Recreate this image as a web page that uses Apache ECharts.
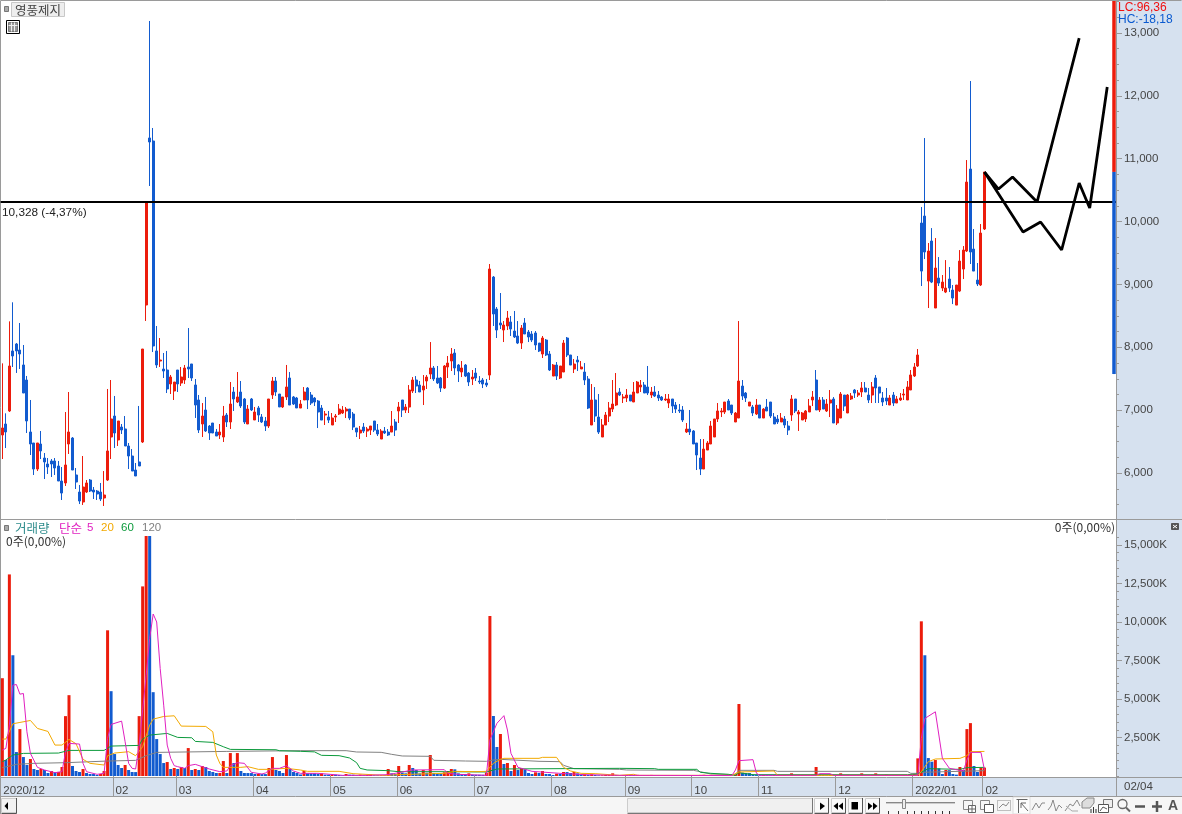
<!DOCTYPE html>
<html><head><meta charset="utf-8">
<style>html,body{margin:0;padding:0;background:#fff}#c{width:1182px;height:814px}</style>
<script src="https://cdn.jsdelivr.net/npm/echarts@6/dist/echarts.min.js"></script>
</head><body><div id="c"></div>
<script>
const sessionCount = 318;
const monthStarts = [0,32,50,72,94,113,135,157,178,197,216,238,260,280];
const monthLabels = ['2020/12','02','03','04','05','06','07','08','09','10','11','12','2022/01','02'];
const priceTicks = [6000,7000,8000,9000,10000,11000,12000,13000];
const volumeTicks = [2500,5000,7500,10000,12500,15000];
const refLevel = 10320;
const rangeBar = [[13509,10790],[10790,7575]];
const trendA = [[280,10788],[284,10518],[288,10709],[295,10312],[307,12920]];
const trendB = [[280,10788],[291,9834],[296,9993],[302,9548],[307,10614],[310,10216],[315,12141]];
// open, close, low, high
const ohlc = [
[6605,6717,6223,7745],[6780,6653,6398,6950],[6987,7703,6971,8413],[7942,7862,7687,8716],[8053,7942,7592,8069],[7957,7894,7655,8387],[7719,7273,7273,8037],[7480,6828,6637,7544],[6653,6462,6287,7162],[6478,6064,5969,6478],
[6064,6478,6032,6478],[6462,6351,6223,6669],[6239,6176,5905,6319],[6144,6096,5985,6239],[6192,6144,5937,6223],[6192,6080,5969,6239],[6112,5873,5873,6192],[5873,5682,5571,6096],[5842,6128,5794,6971],[6462,6653,6303,7289],
[6557,6048,6048,6573],[5969,5857,5746,6080],[5698,5555,5507,5810],[5539,5778,5492,6271],[5698,5842,5682,5889],[5889,5714,5698,5905],[5730,5698,5587,5778],[5714,5667,5571,5730],[5698,5587,5555,5842],[5603,5651,5476,6032],
[5889,6351,5873,7337],[6573,6860,6223,7480],[6907,6637,6398,7226],[6526,6828,6430,6828],[6732,6685,6621,6780],[6701,6430,6430,6907],[6430,6271,6064,6478],[6271,6032,6032,6382],[6048,5953,5953,6160],[6176,6112,6112,7067],
[6494,7973,6478,7973],[8673,10300,8419,10300],[11330,11266,10566,13191],[11282,8021,7925,11489],[7942,7719,7671,8339],[7782,7798,7687,8148],[7655,7623,7512,7910],[7639,7337,7273,7942],[7417,7528,7257,7560],[7305,7448,7162,7448],
[7639,7417,7289,7639],[7432,7528,7385,7687],[7480,7671,7417,7719],[7687,7655,7512,8307],[7735,7512,7464,7735],[7401,7082,6876,7496],[7162,6685,6637,7242],[6780,6907,6573,7114],[7003,6669,6653,7210],[6748,6637,6526,6764],
[6796,6637,6637,6796],[6653,6589,6589,6701],[6605,6653,6542,6780],[6573,6907,6494,7067],[6923,6812,6732,6955],[6812,7098,6701,7448],[7289,7178,6987,7369],[7130,7210,7114,7607],[7289,7067,7035,7464],[7178,6812,6780,7194],
[6780,7019,6780,7082],[7178,7003,6987,7194],[6844,6971,6844,7051],[7035,6923,6812,7067],[6892,6812,6796,6939],[6828,6748,6669,6892],[6748,7178,6717,7178],[7242,7464,7178,7528],[7464,7289,7226,7528],[7257,7051,7051,7257],
[7051,7210,7035,7210],[7210,7369,7162,7719],[7512,7082,7082,7607],[7210,7098,7082,7226],[7194,7035,7035,7210],[7034,7098,7034,7162],[7162,7289,7162,7368],[7352,7162,7018,7368],[7241,7114,7082,7289],[7193,7130,7066,7209],
[7146,6971,6716,7162],[7034,6843,6843,7082],[6923,6939,6764,6987],[6891,6843,6796,6987],[6764,6875,6764,6955],[6891,6907,6812,6939],[6939,7018,6923,7098],[6955,7002,6939,7066],[6987,7018,6875,7050],[7018,6875,6843,7018],
[6939,6732,6684,6971],[6716,6652,6573,6716],[6637,6684,6541,6748],[6732,6668,6637,6796],[6668,6700,6573,6732],[6684,6748,6605,6748],[6828,6684,6652,6828],[6684,6621,6589,6780],[6541,6668,6541,6700],[6668,6637,6621,6732],
[6652,6605,6589,6700],[6652,6748,6652,6987],[6812,6684,6589,6859],[6987,7050,6796,7130],[7162,7002,6891,7162],[7002,7050,6955,7098],[7050,7321,6955,7400],[7305,7480,7273,7527],[7480,7384,7273,7543],[7400,7289,7289,7464],
[7321,7384,7082,7559],[7464,7527,7337,7559],[7575,7671,7496,8084],[7671,7496,7464,7703],[7512,7432,7416,7703],[7512,7352,7289,7527],[7352,7703,7337,7718],[7687,7750,7512,7862],[7782,7893,7623,7989],[7909,7671,7559,7973],
[7718,7623,7448,7734],[7607,7671,7527,7782],[7718,7543,7527,7734],[7591,7448,7384,7607],[7496,7527,7400,7639],[7591,7512,7464,7671],[7464,7448,7416,7543],[7480,7416,7352,7512],[7432,7400,7368,7496],[7559,9246,7480,9325],
[9118,8530,8339,9134],[8609,8275,8148,8641],[8387,8355,8291,8864],[8275,8355,8084,8418],[8339,8466,8275,8578],[8403,8291,8180,8498],[8259,8164,8148,8578],[8180,8068,8052,8418],[8068,8307,7973,8355],[8387,8212,8212,8466],
[8243,8164,8084,8275],[8212,8116,8084,8259],[8228,8037,7957,8259],[8068,7941,7925,8068],[7893,8148,7830,8180],[8116,7878,7862,8132],[7893,7639,7623,7941],[7543,7718,7543,7734],[7718,7543,7480,7766],[7512,7703,7496,7703],
[7607,8068,7607,8116],[8148,7878,7846,8164],[7878,7718,7718,7878],[7655,7734,7591,7814],[7798,7766,7623,7862],[7655,7687,7655,7782],[7607,7480,7400,7750],[7496,7034,7018,7543],[6764,7162,6764,7416],[7162,6907,6812,7368],
[6891,6652,6621,7257],[6573,6764,6573,6859],[6764,6923,6764,6971],[6907,7034,6812,7130],[7018,7098,6971,7480],[7082,7273,7066,7591],[7289,7241,7225,7352],[7194,7209,7114,7257],[7194,7241,7130,7337],[7241,7146,7146,7241],
[7130,7289,7130,7448],[7273,7448,7273,7464],[7369,7400,7289,7480],[7400,7273,7273,7448],[7369,7273,7241,7703],[7241,7289,7194,7369],[7289,7225,7209,7384],[7241,7194,7146,7305],[7209,7162,7146,7225],[7162,7178,7146,7257],
[7114,7178,7034,7257],[7178,7066,6955,7178],[7082,7018,6955,7130],[7003,6987,6955,7098],[7003,6844,6812,7066],[6653,6700,6637,6796],[6700,6653,6605,7003],[6669,6462,6462,6684],[6478,6287,6048,6478],[6239,6064,5968,6541],
[6064,6382,6064,6541],[6366,6478,6366,6509],[6462,6748,6462,6828],[6573,6860,6573,6860],[6860,6987,6812,7114],[6971,6987,6891,7034],[6971,7130,6939,7130],[7146,7003,7003,7178],[7082,6955,6923,7082],[6812,6955,6812,6971],
[6875,7464,6875,8418],[7384,7225,7162,7480],[7273,7194,7130,7289],[7066,7130,7066,7130],[7050,6955,6907,7082],[6939,7082,6923,7178],[7082,6875,6875,7082],[6875,7018,6875,7034],[7050,6987,6987,7178],[7130,6907,6875,7130],
[6891,6780,6780,6955],[6859,6812,6780,6923],[6812,6875,6812,6955],[6859,6764,6716,6907],[6748,6684,6605,6828],[6923,7178,6828,7241],[7178,6987,6955,7178],[6939,6971,6669,7003],[6844,6955,6844,6971],[6860,6987,6812,7003],
[6971,7066,6971,7178],[7162,7209,7066,7305],[7480,7003,7003,7639],[7003,7162,6971,7209],[7162,7018,7018,7209],[6987,7098,6971,7178],[7114,7162,6891,7321],[7178,6796,6796,7209],[6796,7018,6764,7082],[6875,7257,6875,7289],
[7241,7066,6987,7241],[6955,7241,6955,7257],[7178,7225,7162,7273],[7321,7273,7194,7337],[7241,7273,7209,7321],[7289,7353,7209,7448],[7353,7289,7289,7448],[7241,7162,7114,7353],[7241,7369,7114,7448],[7512,7353,7114,7559],
[7369,7273,7114,7369],[7194,7130,7066,7289],[7194,7146,7082,7353],[7082,7194,7082,7241],[7241,7114,7066,7289],[7114,7178,7114,7225],[7162,7194,7146,7273],[7241,7257,7162,7337],[7162,7369,7162,7464],[7321,7560,7321,7639],
[7544,7687,7528,7750],[7703,7878,7687,7973],[9977,9213,8975,10232],[10088,9516,9404,11329],[9054,9532,8625,9659],[9691,9038,9022,9897],[8625,9261,8625,9738],[9102,9022,8975,9436],[8943,9038,8895,9150],[8879,8943,8863,9388],
[9086,8943,8879,9277],[8911,8784,8688,8991],[8672,8991,8672,8991],[8895,9372,8879,9547],[9245,9547,9086,9611],[9532,10629,9516,10979],[10836,9516,9325,12236],[9563,9213,9213,9882],[9070,9007,8975,9341],[8991,9818,8975,9961],
[9882,10788,9866,10788]
];
const volumes = [
6350,1037,13090,7841,1555,3046,1231,713,1102,454,
389,454,389,194,324,259,265,583,3888,5249,
648,324,259,454,194,130,128,65,130,324,
9461,5508,1426,713,518,713,389,259,255,3888,
12312,16000,15800,5443,2398,1426,842,907,454,518,
454,583,518,1814,389,454,389,648,583,324,
259,194,195,972,194,1490,842,1490,324,194,
192,190,130,132,128,125,518,1231,389,324,
194,1361,454,259,194,100,325,173,172,170,
130,173,87,85,87,85,65,43,130,87,
85,43,87,43,65,87,43,42,43,42,
455,173,130,650,216,173,714,520,390,173,
390,216,1364,195,130,128,238,325,455,433,
173,130,128,173,87,85,83,81,216,10390,
3897,1884,2728,780,844,325,714,390,520,433,
195,130,238,195,325,130,128,65,152,130,
260,255,195,260,173,65,108,65,108,65,
43,44,65,66,173,65,50,60,70,60,
55,75,50,45,60,70,50,45,40,55,
60,45,40,35,50,55,45,60,65,70,
80,60,70,55,60,45,55,40,35,90,
4676,216,195,190,90,60,50,60,45,40,
50,45,55,60,50,173,60,50,65,45,
55,70,585,90,60,50,60,45,55,173,
60,70,50,45,60,173,60,50,70,173,
60,50,87,60,50,55,45,60,70,90,
130,1145,10044,7840,1166,929,1037,497,130,389,
380,130,90,583,389,3046,3434,648,259,540,
545
];
const ma5 = [[0,1685],[1,1793],[2,3305],[3,5897],[4,5940],[5,5314],[6,5357],[7,2873],[8,1469],[10,562],[12,389],[15,216],[17,281],[18,1534],[19,2117],[22,2074],[23,821],[24,281],[27,108],[29,173],[30,2441],[31,3348],[34,3564],[35,2225],[36,821],[37,497],[38,454],[39,2009],[40,4300],[41,6545],[42,8921],[43,10519],[44,10001],[45,6977],[46,4601],[47,2009],[48,1145],[49,670],[50,605],[52,497],[53,670],[55,756],[57,605],[59,454],[62,281],[64,324],[65,670],[67,864],[69,821],[71,238],[74,130],[75,194],[77,497],[79,497],[81,670],[83,324],[85,173],[90,173],[97,43],[104,43],[110,87],[112,173],[117,390],[126,411],[127,173],[130,108],[138,43],[139,2338],[141,3421],[143,3919],[144,2988],[145,1472],[147,563],[151,303],[159,173],[166,87],[176,43],[208,30],[209,390],[210,996],[214,1061],[215,173],[216,43],[232,43],[233,152],[236,152],[237,43],[261,43],[262,2441],[263,3737],[266,4169],[268,1145],[270,497],[274,324],[275,1037],[276,1534],[279,1534],[280,389]];
const ma20 = [[0,2398],[1,2398],[3,3391],[5,3478],[8,3607],[10,3089],[13,2894],[15,2009],[17,2009],[19,2376],[21,2095],[23,1080],[25,821],[29,713],[30,1318],[32,1490],[36,1577],[38,1318],[40,1901],[42,3305],[43,3694],[46,3866],[49,3910],[51,3240],[58,3218],[60,2873],[61,1361],[62,821],[63,562],[68,562],[70,605],[73,432],[76,432],[81,497],[85,389],[87,303],[96,303],[100,152],[109,40],[113,87],[126,173],[129,303],[135,281],[138,303],[140,823],[142,1083],[143,1147],[153,1147],[154,1212],[158,1212],[160,563],[162,325],[165,173],[169,152],[176,43],[180,108],[181,43],[208,43],[210,260],[220,325],[221,43],[261,43],[262,281],[264,931],[266,1104],[273,1145],[275,1318],[276,1577],[280,1598]];
const ma60 = [[0,929],[1,1037],[3,1361],[6,1469],[16,1490],[19,1663],[29,1663],[31,1944],[39,1987],[40,2398],[42,2657],[47,2765],[50,2506],[54,2484],[55,2246],[60,2182],[63,1901],[65,1728],[78,1706],[79,1642],[85,1602],[89,1566],[91,1342],[96,1321],[99,1169],[101,866],[102,498],[104,390],[110,346],[113,281],[126,281],[138,260],[141,455],[176,498],[186,476],[187,433],[198,433],[199,238],[202,173],[207,108],[209,43],[210,216],[214,87],[258,87],[261,130],[264,476],[273,432],[275,540],[280,562]];
const ma120 = [[0,540],[4,756],[9,821],[18,864],[30,972],[38,1015],[41,1318],[44,1534],[64,1598],[85,1645],[98,1645],[101,1559],[108,1537],[111,1407],[114,1299],[122,1277],[123,1018],[132,974],[138,953],[140,1039],[142,1082],[153,953],[159,931],[160,693],[163,476],[176,433],[178,390],[197,368],[199,281],[202,130],[209,87],[210,368],[220,368],[221,303],[258,303],[259,173],[261,173],[262,238],[280,346]];

const RED='#EC1C0C', BLUE='#125BCF', GRAY='#9A9A9A', PANEL='#D6E1EF', INK='#444', LAT='"Liberation Sans",sans-serif', KR='"Noto Sans CJK KR",sans-serif';
const sessions = Array.from({length:sessionCount},(_,i)=>'s'+i);
const range = (a,b,s)=>{const r=[];for(let v=a;v<=b;v+=s)r.push(v);return r;};
const comma = v=>String(v).replace(/\B(?=(\d{3})+$)/g,',');
const isMonth = i=>monthStarts.includes(i);

const volBars = volumes.map((v,i)=>({value:v,itemStyle:{color:(i===0||v>=volumes[i-1])?RED:BLUE}}));
function line(name,data,color,w,xi,yi,z){return {name,type:'line',data,xAxisIndex:xi,yAxisIndex:yi,showSymbol:false,symbol:'none',silent:true,z:z,lineStyle:{color,width:w},itemStyle:{color},animation:false};}

const R=(x,y,w,h,fill,stroke)=>({type:'rect',silent:true,shape:{x,y,width:w,height:h},style:{fill:fill||'none',stroke:stroke||null,lineWidth:1}});
const L=(pts,stroke,w)=>({type:'polyline',silent:true,shape:{points:pts},style:{stroke:stroke||'#777',lineWidth:w||1,fill:'none'}});
const P=(pts,fill)=>({type:'polygon',silent:true,shape:{points:pts},style:{fill:fill||'#000'}});
const T=(x,y,text,fill,font,align)=>({type:'text',silent:true,x,y,style:{text,fill:fill||INK,font:font||('11.5px '+LAT),textAlign:align||'left',textVerticalAlign:'middle'}});
const under=[
 R(1116,0,66,814,PANEL),
 R(0,778,1182,19,PANEL),
 R(0,797,1182,17,'#F6F6F6'),
];
const over=[
 L([[0.5,814],[0.5,0.5],[1181.5,0.5]],GRAY),
 L([[0,519.5],[1182,519.5]],GRAY),
 L([[0,777.5],[1182,777.5]],GRAY),
 L([[0,796.5],[1182,796.5]],GRAY),
 L([[1116.5,0],[1116.5,796]],GRAY),
 R(4.5,6.5,4,5,'#AAA','#777'),
 R(11.5,2.5,53,14,'#EEEEEE','#C8C8C8'),
 T(15,10,'영풍제지','#444','12.5px '+KR),
 R(6.5,20.5,13,13,'#fff','#000'),
 R(8.5,22.5,9,9,'#999','#777'),
 L([[8.5,25.5],[17.5,25.5]],'#eee'),L([[11.5,22.5],[11.5,31.5]],'#eee'),L([[14.5,22.5],[14.5,31.5]],'#eee'),
 T(2,213,'10,328 (-4,37%)','#222','11.8px '+LAT),
 T(1118,8,'LC:96,36','#F01010','12px '+LAT),
 T(1118,20,'HC:-18,18','#0A5AD0','12px '+LAT),
 R(4.5,525.5,4,5,'#AAA','#777'),
 T(15,528,'거래량','#2E8C8C','12.5px '+KR),
 T(59,528,'단순','#E020C0','12.5px '+KR),
 T(87,528,'5','#E020C0','11.5px '+LAT),
 T(101,528,'20','#F2A900','11.5px '+LAT),
 T(121,528,'60','#0C9A3C','11.5px '+LAT),
 T(142,528,'120','#808080','11.5px '+LAT),
 T(6,541,'0주(0,00%)','#333','12px '+KR),
 T(1115,527,'0주(0,00%)','#333','12px '+KR,'right'),
 R(1171.5,523.5,7,6,'#555','#555'),
 L([[1173,525],[1177,528]],'#fff'),L([[1177,525],[1173,528]],'#fff'),
 T(1124,787,'02/04',INK),
 R(1.5,798.5,15,14,'#F2F2F2','#ccc'),L([[1.5,813.5],[16.5,813.5],[16.5,798]],'#555'),P([[8,802],[8,810],[4.5,806]]),
 R(627.5,798.5,185,14,'#F0F0F0','#ccc'),L([[627.5,813.5],[812.5,813.5],[812.5,798]],'#777'),
 R(814.5,798.5,14,14,'#FAFAFA','#ccc'),L([[814.5,813.5],[828.5,813.5],[828.5,798]],'#555'),P([[820,802.5],[825,806],[820,810]]),
 R(831.5,798.5,14,14,'#FAFAFA','#ccc'),L([[831.5,813.5],[845.5,813.5],[845.5,798]],'#555'),P([[838,802.5],[838,810],[833.5,806]]),P([[843,802.5],[843,810],[838.5,806]]),
 R(848.5,798.5,14,14,'#FAFAFA','#ccc'),L([[848.5,813.5],[862.5,813.5],[862.5,798]],'#555'),R(851.5,802,6.5,7.5,'#000'),
 R(865.5,798.5,14,14,'#FAFAFA','#ccc'),L([[865.5,813.5],[879.5,813.5],[879.5,798]],'#555'),P([[868,802.5],[872.5,806],[868,810]]),P([[873,802.5],[877.5,806],[873,810]]),
 L([[886,802.5],[955,802.5]],'#888'),L([[886,803.5],[955,803.5]],'#ccc'),
 R(902.5,799.5,3,9,'#EEE','#888'),
 ...[888,898,907,914,921,928,935,942,949].map(x=>L([[x+.5,811],[x+.5,814]],'#333')),
 R(963.5,800.5,9,9,null,'#888'),R(968.5,805.5,7,7,'#fff','#666'),L([[972,805.5],[972,812.5]],'#666'),L([[968.5,809],[975.5,809]],'#666'),
 R(980.5,800.5,9,9,null,'#888'),R(984.5,804.5,9,8,'#fff','#555'),
 ({...R(997.5,800.5,13,10,null,'#888'),style:{fill:'none',stroke:'#888',lineWidth:1,lineDash:[1,1]}}),L([[999,808],[1003,804],[1006,806],[1009,802]],'#888'),
 R(1013,797,17,17,'#FCFCFC','#ddd'),
 L([[1016.5,799.5],[1027.5,799.5]],'#666'),L([[1018.5,799.5],[1018.5,813]],'#666'),L([[1028,811],[1021,803]],'#666'),L([[1021,808],[1021,803],[1026,803]],'#666'),
 L([[1032,810],[1036,803],[1039,808],[1042,803],[1045,803]],'#888'),
 L([[1048,810],[1051,806],[1053,800],[1056,811],[1059,805],[1062,808]],'#888'),
 L([[1065,811],[1070,804],[1073,806],[1077,800],[1080,806]],'#888'),L([[1066,806],[1072,811],[1078,811]],'#aaa'),
 P([[1082,808],[1082,802],[1087,798],[1094,798],[1094,803],[1090,808]],'#ddd'),L([[1082,808],[1082,802],[1087,798],[1094,798],[1094,803],[1090,808],[1082,808]],'#888'),L([[1091,813],[1091,809]],'#333',1),L([[1093.5,813],[1093.5,807]],'#333',1),L([[1096,813],[1096,809]],'#333',1),
 R(1103.5,799.5,9,8,'#eee','#777'),R(1098.5,804.5,10,8,'#fff','#555'),L([[1100,811],[1103,807],[1107,809]],'#555'),
 ({type:'circle',silent:true,shape:{cx:1122.5,cy:804,r:4.5},style:{fill:'none',stroke:'#666',lineWidth:1.3}}),L([[1126,807.5],[1130,811.5]],'#666',2),
 L([[1135,806.5],[1145,806.5]],'#555',2.5),
 L([[1152,806.5],[1162,806.5]],'#555',2.5),L([[1157,801],[1157,812]],'#555',2.5),
 T(1173,806,'A','#555','bold 14px '+LAT,'center'),
];

const option={
 animation:false,backgroundColor:'#fff',
 grid:[{left:0.6,top:1,width:1115.4,height:518},{left:0.6,top:536,width:1115.4,height:240}],
 xAxis:[
  {type:'category',gridIndex:0,data:sessions,boundaryGap:true,axisLine:{show:false},axisTick:{show:false},axisLabel:{show:false},splitLine:{show:false}},
  {type:'category',gridIndex:1,data:sessions,boundaryGap:true,axisLine:{show:false},
   axisTick:{show:true,length:20,interval:(i)=>isMonth(i),lineStyle:{color:GRAY,width:1}},
   axisLabel:{show:true,interval:(i)=>isMonth(i),align:'left',margin:5,color:INK,fontFamily:LAT,fontSize:11.5,padding:[4,0,0,1],formatter:(v,i)=>monthLabels[monthStarts.indexOf(i)]},splitLine:{show:false}}
 ],
 yAxis:[
  {type:'value',gridIndex:0,position:'right',min:5269,max:13509,scale:true,splitLine:{show:false},axisLine:{show:false},
   axisTick:{show:true,length:6,customValues:priceTicks,lineStyle:{color:GRAY}},
   axisLabel:{show:true,customValues:priceTicks,margin:8,color:INK,fontFamily:LAT,fontSize:11.5,padding:[3,0,0,0],formatter:v=>comma(v)}},
  {type:'value',gridIndex:1,position:'right',min:0,max:15585,splitLine:{show:false},axisLine:{show:false},
   axisTick:{show:true,length:6,customValues:volumeTicks,lineStyle:{color:GRAY}},
   axisLabel:{show:true,customValues:volumeTicks,margin:8,color:INK,fontFamily:LAT,fontSize:11.5,formatter:v=>comma(v)+'K'}},
  {type:'value',gridIndex:0,position:'right',min:5269,max:13509,scale:true,splitLine:{show:false},axisLine:{show:false},
   axisTick:{show:true,length:3,customValues:range(5500,13500,250),lineStyle:{color:GRAY}},axisLabel:{show:false}},
  {type:'value',gridIndex:1,position:'right',min:0,max:15585,splitLine:{show:false},axisLine:{show:false},
   axisTick:{show:true,length:3,customValues:range(0,15500,500),lineStyle:{color:GRAY}},axisLabel:{show:false}}
 ],
 series:[
  {name:'price',type:'candlestick',xAxisIndex:0,yAxisIndex:0,data:ohlc,barWidth:2.5,silent:true,z:2,
   itemStyle:{color:RED,color0:BLUE,borderColor:RED,borderColor0:BLUE,borderColorDoji:RED,borderWidth:1},
   markLine:{silent:true,symbol:'none',animation:false,label:{show:false},lineStyle:{color:'#000',width:2,type:'solid'},data:[{yAxis:refLevel}]}},
  {name:'range',type:'custom',xAxisIndex:0,yAxisIndex:0,z:6,silent:true,data:rangeBar.map((r,i)=>[317,r[0],r[1],i]),
   encode:{x:0,y:[1,2]},clip:true,
   renderItem:(p,api)=>{const a=api.coord([api.value(0),api.value(1)]),b=api.coord([api.value(0),api.value(2)]);
     return {type:'rect',shape:{x:a[0]-2,y:a[1],width:3.5,height:b[1]-a[1]},style:{fill:api.value(3)===0?RED:BLUE}};}},
  line('trendA',trendA,'#000',2.8,0,0,5),
  line('trendB',trendB,'#000',2.8,0,0,5),
  {name:'거래량',type:'bar',xAxisIndex:1,yAxisIndex:1,data:volBars,barWidth:3,silent:true,z:2},
  line('120',ma120,'#808080',1,1,1,3),
  line('60',ma60,'#0C9A3C',1,1,1,4),
  line('20',ma20,'#F2A900',1,1,1,5),
  line('5',ma5,'#E020C0',1,1,1,6)
 ],
 graphic:[{type:'group',silent:true,z:-1,zlevel:0,children:under},{type:'group',silent:true,z:100,children:over}]
};
const chart=echarts.init(document.getElementById('c'),null,{renderer:'canvas',width:1182,height:814});
chart.setOption(option);
</script></body></html>
